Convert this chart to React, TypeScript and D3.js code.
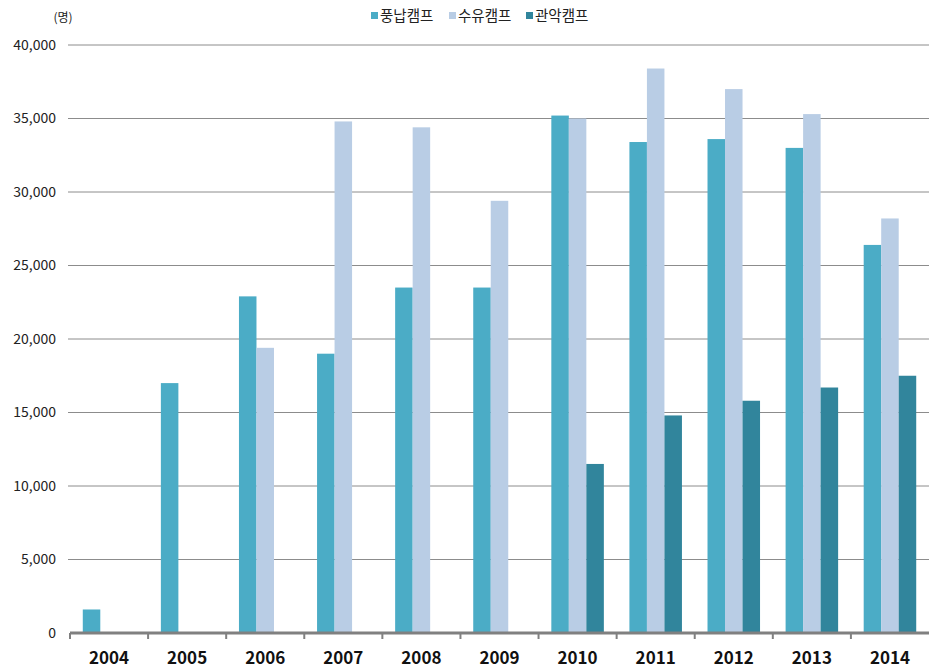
import React from "react";
import * as d3 from "d3";

const categories = ["2004", "2005", "2006", "2007", "2008", "2009", "2010", "2011", "2012", "2013", "2014"];
const seriesNames = ["풍납캠프", "수유캠프", "관악캠프"];
const pungnap = [1600, 17000, 22900, 19000, 23500, 23500, 35200, 33400, 33600, 33000, 26400];
const suyu = [0, 0, 19400, 34800, 34400, 29400, 35000, 38400, 37000, 35300, 28200];
const gwanak = [0, 0, 0, 0, 0, 0, 11500, 14800, 15800, 16700, 17500];
const yTicks = [0, 5000, 10000, 15000, 20000, 25000, 30000, 35000, 40000];
const colors = ["#4BACC6", "#B9CDE5", "#31859C"];

const W = 929, H = 669;
const left = 70, right = 929, top = 45, bottom = 633;
const font = "'Noto Sans CJK KR', 'Noto Sans', sans-serif";

export default function App() {
  const series = [pungnap, suyu, gwanak];
  const x = d3.scaleBand<string>().domain(categories).range([left, right]).padding(0);
  const xs = d3.scaleBand<number>().domain([0, 1, 2]).range([0, x.bandwidth()]).paddingInner(0).paddingOuter(0.73);
  const y = d3.scaleLinear().domain([0, 40000]).range([bottom, top]);
  const fmt = d3.format(",");
  const legendX = [371, 449, 526];
  return (
    <svg width={W} height={H} style={{ position: "absolute", left: 0, top: 0, background: "#fff" }}>
      {yTicks.filter(t => t > 0).map(t => (
        <line key={t} x1={left - 2} x2={right} y1={y(t)} y2={y(t)} stroke="#8c8c8c" strokeWidth={1} />
      ))}
      {yTicks.map(t => (
        <text key={"l" + t} x={56} y={y(t)} dy="0.35em" textAnchor="end" fontFamily={font} fontSize={14} fill="#222">
          {fmt(t)}
        </text>
      ))}
      <text x={63} y={22} textAnchor="middle" fontFamily={font} fontSize={12} fill="#222">(명)</text>
      {series.map((vals, si) =>
        vals.map((v, ci) =>
          v > 0 ? (
            <rect key={si + "-" + ci} x={(x(categories[ci]) as number) + (xs(si) as number)} y={y(v)}
              width={xs.bandwidth()} height={bottom - y(v)} fill={colors[si]} />
          ) : null
        )
      )}
      <line x1={left} x2={right} y1={bottom} y2={bottom} stroke="#808080" strokeWidth={3} />
      {categories.map((c, i) => (
        <line key={"t" + c} x1={x(c) as number} x2={x(c) as number} y1={bottom} y2={bottom + 6} stroke="#808080" strokeWidth={2} />
      ))}
      {categories.map(c => (
        <text key={"x" + c} x={(x(c) as number) + x.bandwidth() / 2} y={664} textAnchor="middle" fontFamily={font}
          fontWeight="bold" fontSize={17} fill="#111">{c}</text>
      ))}
      {seriesNames.map((n, i) => (
        <g key={n}>
          <rect x={legendX[i]} y={12} width={7} height={7} fill={colors[i]} />
          <text x={legendX[i] + 9} y={16} dy="0.35em" fontFamily={font} fontSize={14.5} fill="#222">{n}</text>
        </g>
      ))}
    </svg>
  );
}
